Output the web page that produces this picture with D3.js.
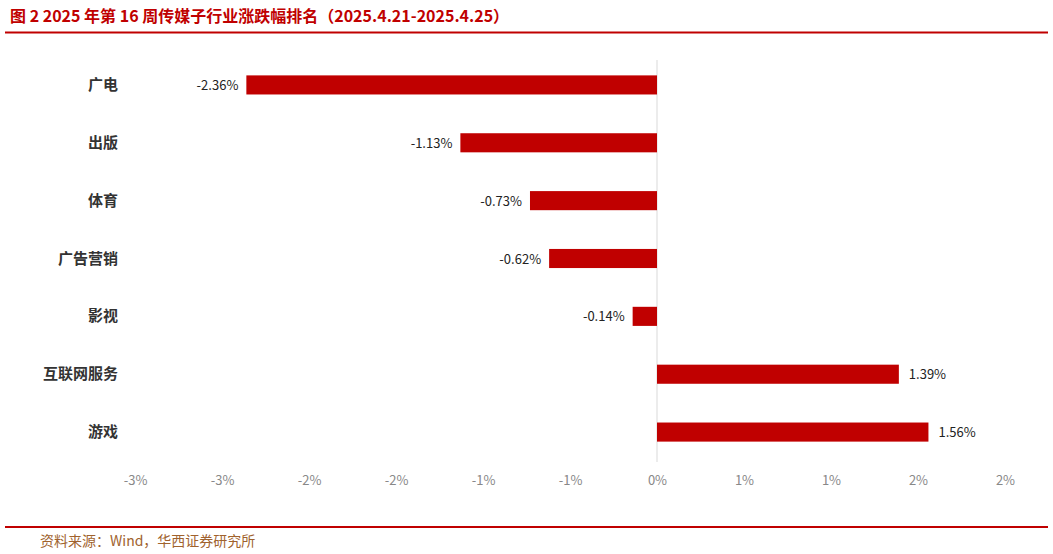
<!DOCTYPE html>
<html><head><meta charset="utf-8">
<script src="https://cdn.jsdelivr.net/npm/d3@7"></script>
<style>body{margin:0;background:#fff}text{font-family:"Noto Sans CJK SC","Noto Sans",sans-serif}</style>
</head><body><svg id="c" width="1053" height="554"></svg>
<script>
const categories=["广电","出版","体育","广告营销","影视","互联网服务","游戏"];
const values=[-2.36,-1.13,-0.73,-0.62,-0.14,1.39,1.56];
const tickValues=[-3,-2.5,-2,-1.5,-1,-0.5,0,0.5,1,1.5,2];
const tickLabels=["-3%","-3%","-2%","-2%","-1%","-1%","0%","1%","1%","2%","2%"];
const svg=d3.select("#c");
const red="#c00000";
svg.append("text").attr("x",10).attr("y",22).attr("fill",red).attr("font-size",16).attr("font-weight","bold")
 .text("图 2 2025 年第 16 周传媒子行业涨跌幅排名（2025.4.21-2025.4.25）");
svg.append("line").attr("x1",5).attr("x2",1048).attr("y1",32.5).attr("y2",32.5).attr("stroke",red).attr("stroke-width",2);
svg.append("line").attr("x1",5).attr("x2",1048).attr("y1",527).attr("y2",527).attr("stroke",red).attr("stroke-width",2);
svg.append("text").attr("x",40).attr("y",546).attr("fill","#a0622d").attr("font-size",14).text("资料来源：Wind，华西证券研究所");
const x=d3.scaleLinear().domain([-3,2]).range([135,1005]);
const y=d3.scaleBand().domain(categories).range([56,461]).paddingInner(0.67).paddingOuter(0.335);
svg.append("line").attr("x1",x(0)).attr("x2",x(0)).attr("y1",60).attr("y2",462).attr("stroke","#d9d9d9");
svg.selectAll("rect.b").data(values).join("rect").attr("fill",red)
 .attr("x",d=>x(Math.min(0,d))).attr("width",d=>Math.abs(x(d)-x(0)))
 .attr("y",(d,i)=>y(categories[i])).attr("height",y.bandwidth());
svg.selectAll("text.v").data(values).join("text").attr("font-size",13).attr("fill","#222")
 .attr("x",d=>d<0?x(d)-8:x(d)+10).attr("text-anchor",d=>d<0?"end":"start")
 .attr("y",(d,i)=>y(categories[i])+y.bandwidth()/2+5).text(d=>d.toFixed(2)+"%");
svg.selectAll("text.c").data(categories).join("text").attr("font-size",15).attr("fill","#333").attr("font-weight","bold")
 .attr("x",118).attr("text-anchor","end").attr("y",d=>y(d)+y.bandwidth()/2+5).text(d=>d);
const ax=d3.axisBottom(x).tickValues(tickValues).tickFormat((d,i)=>tickLabels[i]).tickSize(0);
const g=svg.append("g").attr("transform","translate(0,470)").call(ax);
g.select(".domain").remove();
g.selectAll("text").attr("font-size",13).attr("fill","#888").attr("dy","0.9em");
</script></body></html>
